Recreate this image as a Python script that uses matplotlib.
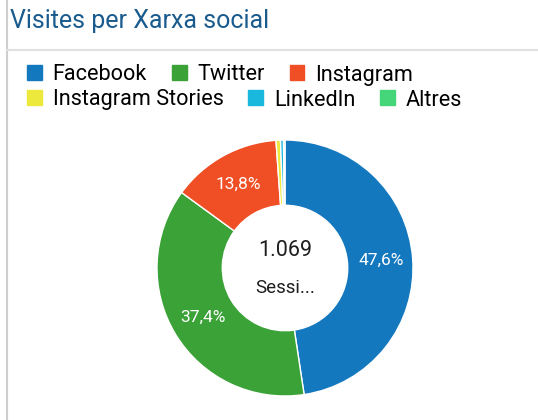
import matplotlib.pyplot as plt
from matplotlib import patches
from matplotlib.lines import Line2D

plt.rcParams['font.family'] = ['Roboto', 'DejaVu Sans']

# data
networks = ['Facebook', 'Twitter', 'Instagram', 'Instagram Stories', 'LinkedIn', 'Altres']
sessions = [509, 400, 148, 6, 4, 2]
colors = ['#1478bf', '#3aa237', '#f04e25', '#ece83c', '#19b8dc', '#46d67a']
total_label = '1.069'
center_label = 'Sessi...'

W, H = 538, 420
fig = plt.figure(figsize=(W / 100, H / 100), dpi=100)

# card frame
fig.add_artist(Line2D([7 / W, 7 / W], [0, 1], color='#cfcfcf', lw=1.5))
fig.add_artist(Line2D([7 / W, 1], [1 - 50 / H, 1 - 50 / H], color='#e0e0e0', lw=1.5))

fig.text(10 / W, 1 - 21 / H, 'Visites per Xarxa social', fontsize=18,
         color='#1a5b8e', ha='left', va='center')

# legend, two rows like the flow layout
rows = [(0, 3, 75), (3, 6, 100)]
for a, b, ypix in rows:
    handles = [patches.Patch(color=colors[i], label=networks[i]) for i in range(a, b)]
    fig.legend(handles=handles, ncol=len(handles), loc='center left',
               bbox_to_anchor=(27 / W, 1 - ypix / H), frameon=False,
               fontsize=15.6, handlelength=0.68, handleheight=0.68,
               handletextpad=0.5, columnspacing=1.15, borderpad=0, borderaxespad=0)

# donut
cx, cy, r = 285, 268, 128
ax = fig.add_axes([(cx - r) / W, (H - cy - r) / H, 2 * r / W, 2 * r / H])


def fmt(p):
    return ('%.1f%%' % p).replace('.', ',') if p > 5 else ''


wedges, texts, autotexts = ax.pie(sessions, colors=colors, startangle=90, counterclock=False,
                                  autopct=fmt, pctdistance=0.75,
                                  wedgeprops=dict(width=0.51, edgecolor='white', linewidth=1),
                                  textprops=dict(color='white', fontsize=12.5))
ax.set_xlim(-1, 1)
ax.set_ylim(-1, 1)
ax.text(0, 0.14, total_label, ha='center', va='center', fontsize=15.5, color='#1e1e1e')
ax.text(0, -0.16, center_label, ha='center', va='center', fontsize=13.5, color='#1e1e1e')

fig.savefig('out.png', dpi=100)
